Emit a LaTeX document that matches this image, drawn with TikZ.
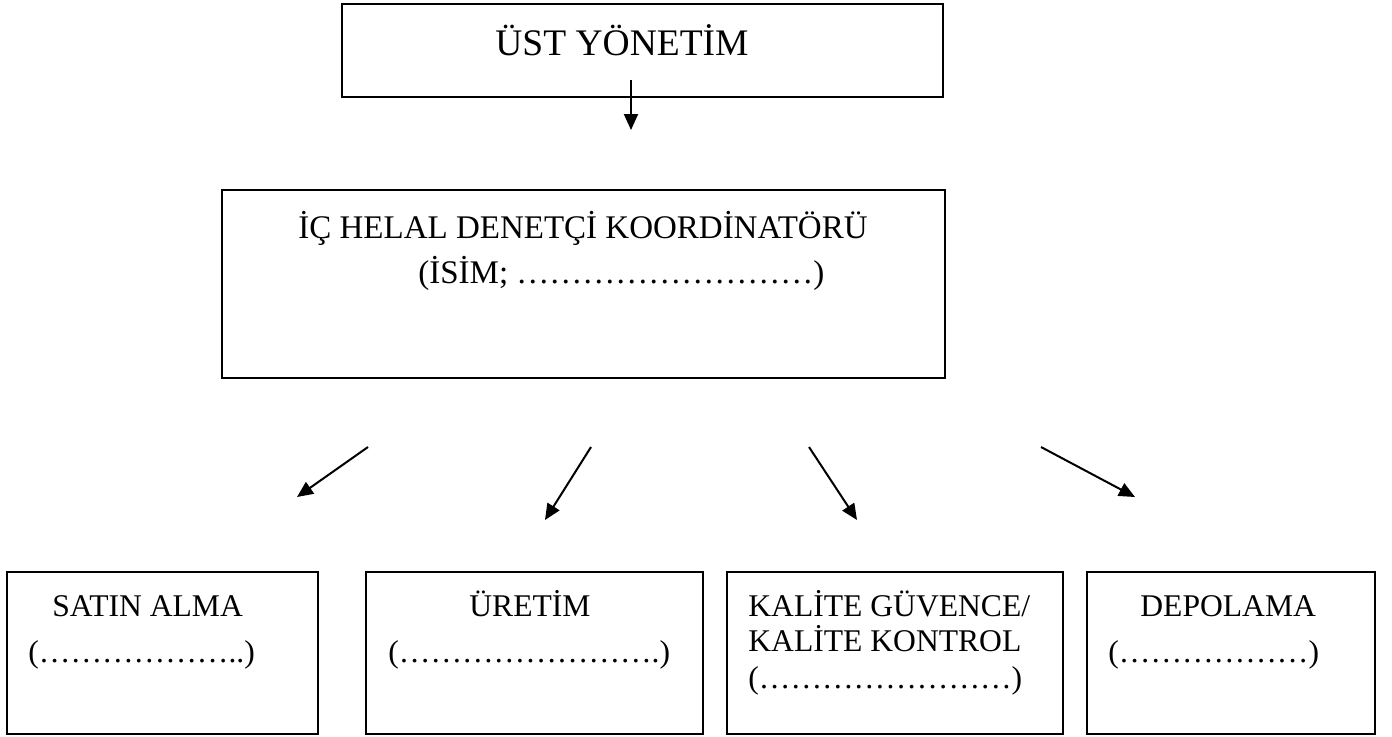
\documentclass[tikz,border=0pt]{standalone}
\usepackage{fontspec}
\setmainfont{Liberation Serif}
\usetikzlibrary{arrows.meta}
\begin{document}
\begin{tikzpicture}[x=0.5pt,y=-0.5pt,
  box/.style={draw=black,line width=1pt},
  txt/.style={inner sep=0pt,anchor=base west},
  arr/.style={line width=1pt,-{Triangle[length=8pt,width=7pt]}},
  big/.style={font=\fontsize{18.75}{23}\selectfont},
  mid/.style={font=\fontsize{16.5}{20}\selectfont},
  small/.style={font=\fontsize{15.8}{19}\selectfont}]
\useasboundingbox (0,0) rectangle (1392,736);
% boxes
\draw[box] (342,4) rectangle (943,97);
\draw[box] (222,190) rectangle (945,378);
\draw[box] (7,572) rectangle (318,734);
\draw[box] (366,572) rectangle (703,734);
\draw[box] (727,572) rectangle (1063,734);
\draw[box] (1087,572) rectangle (1375,734);
% texts
\node[txt,big] (top) at (495,55) {ÜST YÖNETİM};
\node[txt,mid] (mid1) at (298,238) {İÇ HELAL DENETÇİ KOORDİNATÖRÜ};
\node[txt,mid] (mid2) at (418,283) {(İSİM; ………………………)};
\node[txt,small] (b1a) at (52,616) {SATIN ALMA};
\node[txt,small] (b1b) at (28,662) {(………………..)};
\node[txt,small] (b2a) at (469,616) {ÜRETİM};
\node[txt,small] (b2b) at (388,662) {(…………………….)};
\node[txt,small] (b3a) at (748,616) {KALİTE GÜVENCE/};
\node[txt,small] (b3b) at (748,651) {KALİTE KONTROL};
\node[txt,small] (b3c) at (748,688) {(……………………)};
\node[txt,small] (b4a) at (1140,616) {DEPOLAMA};
\node[txt,small] (b4b) at (1108,662) {(………………)};
% arrow end points
\coordinate (a0s) at (631,80);
\coordinate (a0e) at (631,130);
\coordinate (a1s) at (368,447);
\coordinate (a1e) at (297,497);
\coordinate (a2s) at (591,447);
\coordinate (a2e) at (545,520);
\coordinate (a3s) at (809,447);
\coordinate (a3e) at (857,520);
\coordinate (a4s) at (1041,447);
\coordinate (a4e) at (1135,497);
\draw[arr] (a0s) -- (a0e);
\draw[arr] (a1s) -- (a1e);
\draw[arr] (a2s) -- (a2e);
\draw[arr] (a3s) -- (a3e);
\draw[arr] (a4s) -- (a4e);
\end{tikzpicture}
\end{document}
